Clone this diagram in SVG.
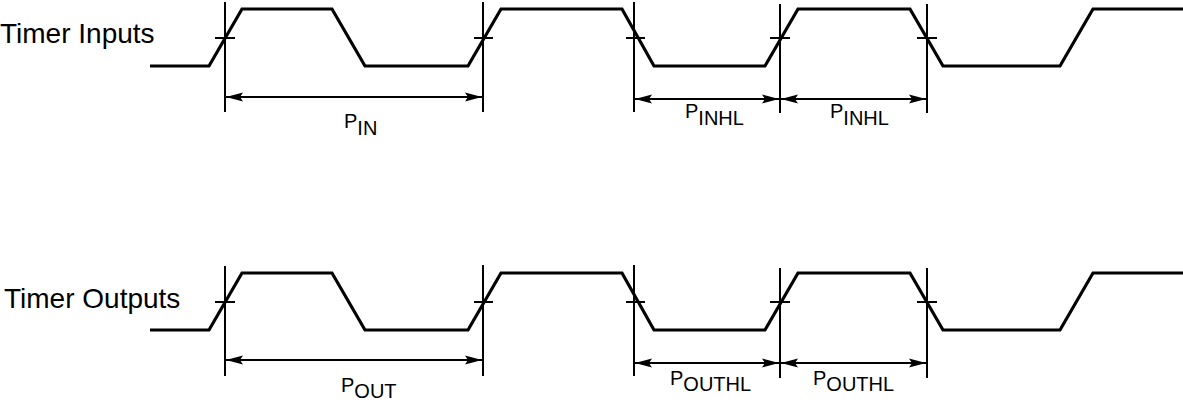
<svg xmlns="http://www.w3.org/2000/svg" width="1183" height="404" viewBox="0 0 1183 404">
<style>
.wave{fill:none;stroke:#000;stroke-width:3.2;stroke-linejoin:miter}
.ref{stroke:#000;stroke-width:2;fill:none}
.dim{stroke:#000;stroke-width:2;fill:none;marker-start:url(#ah);marker-end:url(#ah)}
.lbl{font-family:"Liberation Sans",Arial,sans-serif;font-size:28px;fill:#000}
.p{font-family:"Liberation Sans",Arial,sans-serif;font-size:20px;fill:#000}
</style>
<defs>
<marker id="ah" markerUnits="userSpaceOnUse" markerWidth="18" markerHeight="12" refX="17" refY="6" orient="auto-start-reverse">
<path d="M0,1.5 L17,6 L0,10.5 L3,6 z" fill="#000"/>
</marker>
<path id="wf" d="M150,66 L209,66 L242,9 L332,9 L365,66 L468,66 L501,9 L622,9 L654,66 L765,66 L798,9 L910,9 L943,66 L1060,66 L1093,9 L1183,9"/>
</defs>
<g id="timer-inputs">
<text class="lbl" x="0" y="43">Timer Inputs</text>
<use href="#wf" class="wave"/>
<g id="in-refs" class="ref">
<line x1="225" y1="2" x2="225" y2="112"/>
<line x1="215" y1="38" x2="235" y2="38"/>
<line x1="483" y1="2" x2="483" y2="112"/>
<line x1="474" y1="38" x2="493" y2="38"/>
<line x1="634" y1="2" x2="634" y2="112"/>
<line x1="626" y1="38" x2="645" y2="38"/>
<line x1="780" y1="4" x2="780" y2="113"/>
<line x1="770" y1="38" x2="790" y2="38"/>
<line x1="927" y1="4" x2="927" y2="113"/>
<line x1="917" y1="38" x2="937" y2="38"/>
</g>
</g>
<g id="timer-outputs">
<text class="lbl" x="4" y="308">Timer Outputs</text>
<use href="#wf" class="wave" transform="translate(0,264)"/>
<g id="out-refs" class="ref">
<line x1="225" y1="266" x2="225" y2="376"/>
<line x1="215" y1="302" x2="235" y2="302"/>
<line x1="483" y1="265" x2="483" y2="376"/>
<line x1="474" y1="302" x2="493" y2="302"/>
<line x1="634" y1="265" x2="634" y2="376"/>
<line x1="626" y1="302" x2="645" y2="302"/>
<line x1="780" y1="268" x2="780" y2="378"/>
<line x1="770" y1="302" x2="790" y2="302"/>
<line x1="927" y1="268" x2="927" y2="378"/>
<line x1="917" y1="302" x2="937" y2="302"/>
</g>
</g>
<g id="connectors">
<line class="dim" x1="226" y1="97" x2="482" y2="97"/>
<line class="dim" x1="635" y1="99" x2="779" y2="99"/>
<line class="dim" x1="781" y1="99" x2="926" y2="99"/>
<line class="dim" x1="226" y1="360" x2="482" y2="360"/>
<line class="dim" x1="635" y1="363" x2="779" y2="363"/>
<line class="dim" x1="781" y1="363" x2="926" y2="363"/>
</g>
<g id="labels">
<text class="p" x="344" y="128">P<tspan dy="7">IN</tspan></text>
<text class="p" x="685" y="118">P<tspan dy="7">INHL</tspan></text>
<text class="p" x="830" y="118">P<tspan dy="7">INHL</tspan></text>
<text class="p" x="341" y="392">P<tspan dy="6">OUT</tspan></text>
<text class="p" x="670" y="385">P<tspan dy="6">OUTHL</tspan></text>
<text class="p" x="813" y="385">P<tspan dy="6">OUTHL</tspan></text>
</g>
</svg>
